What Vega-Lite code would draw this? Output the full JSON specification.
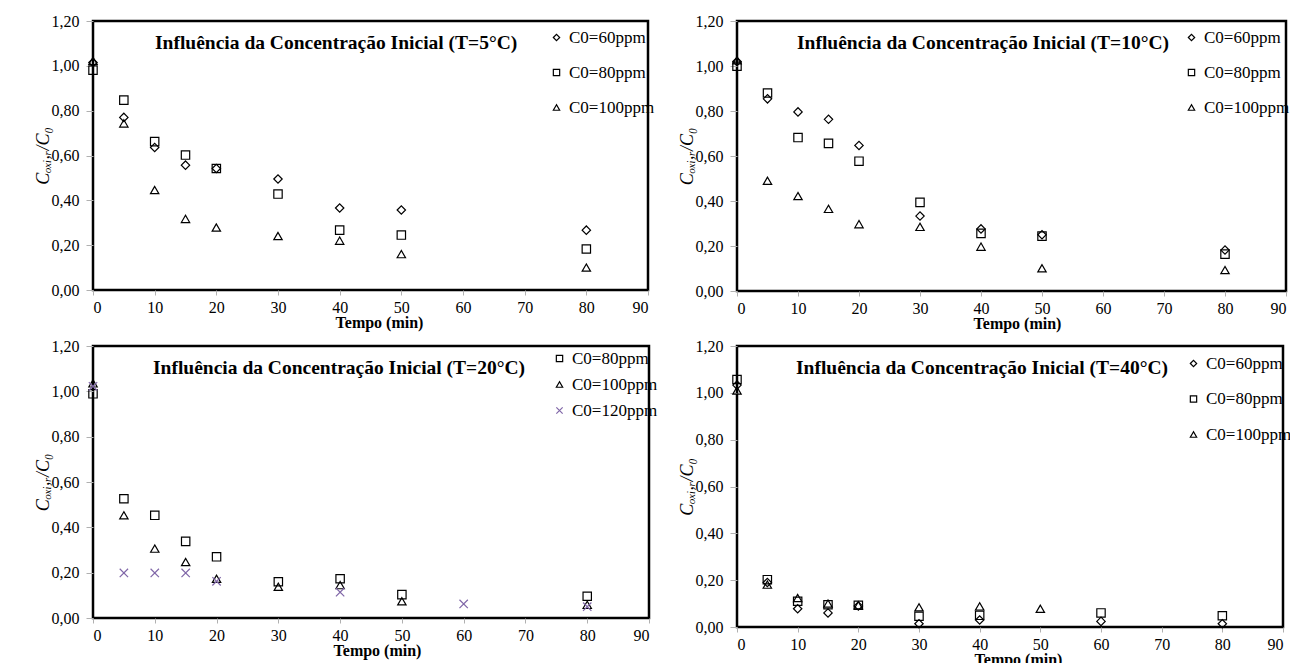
{
  "$schema": "https://vega.github.io/schema/vega-lite/v6.json",
  "padding": {"left": 32, "top": 11, "right": 0, "bottom": 0},
  "columns": 2,
  "align": "each",
  "bounds": "flush",
  "spacing": {"row": 55, "column": 88},
  "datasets": {
    "pts": [
      {"p": "5", "t": 0, "v": 1.015, "s": "C0=60ppm"},
      {"p": "5", "t": 5, "v": 0.77, "s": "C0=60ppm"},
      {"p": "5", "t": 10, "v": 0.636, "s": "C0=60ppm"},
      {"p": "5", "t": 15, "v": 0.557, "s": "C0=60ppm"},
      {"p": "5", "t": 20, "v": 0.542, "s": "C0=60ppm"},
      {"p": "5", "t": 30, "v": 0.495, "s": "C0=60ppm"},
      {"p": "5", "t": 40, "v": 0.366, "s": "C0=60ppm"},
      {"p": "5", "t": 50, "v": 0.357, "s": "C0=60ppm"},
      {"p": "5", "t": 80, "v": 0.267, "s": "C0=60ppm"},
      {"p": "5", "t": 0, "v": 0.981, "s": "C0=80ppm"},
      {"p": "5", "t": 5, "v": 0.847, "s": "C0=80ppm"},
      {"p": "5", "t": 10, "v": 0.662, "s": "C0=80ppm"},
      {"p": "5", "t": 15, "v": 0.602, "s": "C0=80ppm"},
      {"p": "5", "t": 20, "v": 0.542, "s": "C0=80ppm"},
      {"p": "5", "t": 30, "v": 0.428, "s": "C0=80ppm"},
      {"p": "5", "t": 40, "v": 0.267, "s": "C0=80ppm"},
      {"p": "5", "t": 50, "v": 0.245, "s": "C0=80ppm"},
      {"p": "5", "t": 80, "v": 0.183, "s": "C0=80ppm"},
      {"p": "5", "t": 0, "v": 1.022, "s": "C0=100ppm"},
      {"p": "5", "t": 5, "v": 0.743, "s": "C0=100ppm"},
      {"p": "5", "t": 10, "v": 0.446, "s": "C0=100ppm"},
      {"p": "5", "t": 15, "v": 0.317, "s": "C0=100ppm"},
      {"p": "5", "t": 20, "v": 0.279, "s": "C0=100ppm"},
      {"p": "5", "t": 30, "v": 0.241, "s": "C0=100ppm"},
      {"p": "5", "t": 40, "v": 0.22, "s": "C0=100ppm"},
      {"p": "5", "t": 50, "v": 0.16, "s": "C0=100ppm"},
      {"p": "5", "t": 80, "v": 0.1, "s": "C0=100ppm"},

      {"p": "10", "t": 0, "v": 1.02, "s": "C0=60ppm"},
      {"p": "10", "t": 5, "v": 0.854, "s": "C0=60ppm"},
      {"p": "10", "t": 10, "v": 0.796, "s": "C0=60ppm"},
      {"p": "10", "t": 15, "v": 0.763, "s": "C0=60ppm"},
      {"p": "10", "t": 20, "v": 0.647, "s": "C0=60ppm"},
      {"p": "10", "t": 30, "v": 0.333, "s": "C0=60ppm"},
      {"p": "10", "t": 40, "v": 0.276, "s": "C0=60ppm"},
      {"p": "10", "t": 50, "v": 0.25, "s": "C0=60ppm"},
      {"p": "10", "t": 80, "v": 0.182, "s": "C0=60ppm"},
      {"p": "10", "t": 0, "v": 0.999, "s": "C0=80ppm"},
      {"p": "10", "t": 5, "v": 0.88, "s": "C0=80ppm"},
      {"p": "10", "t": 10, "v": 0.682, "s": "C0=80ppm"},
      {"p": "10", "t": 15, "v": 0.656, "s": "C0=80ppm"},
      {"p": "10", "t": 20, "v": 0.577, "s": "C0=80ppm"},
      {"p": "10", "t": 30, "v": 0.394, "s": "C0=80ppm"},
      {"p": "10", "t": 40, "v": 0.256, "s": "C0=80ppm"},
      {"p": "10", "t": 50, "v": 0.244, "s": "C0=80ppm"},
      {"p": "10", "t": 80, "v": 0.164, "s": "C0=80ppm"},
      {"p": "10", "t": 0, "v": 1.025, "s": "C0=100ppm"},
      {"p": "10", "t": 5, "v": 0.49, "s": "C0=100ppm"},
      {"p": "10", "t": 10, "v": 0.422, "s": "C0=100ppm"},
      {"p": "10", "t": 15, "v": 0.365, "s": "C0=100ppm"},
      {"p": "10", "t": 20, "v": 0.297, "s": "C0=100ppm"},
      {"p": "10", "t": 30, "v": 0.285, "s": "C0=100ppm"},
      {"p": "10", "t": 40, "v": 0.197, "s": "C0=100ppm"},
      {"p": "10", "t": 50, "v": 0.101, "s": "C0=100ppm"},
      {"p": "10", "t": 80, "v": 0.093, "s": "C0=100ppm"},

      {"p": "20", "t": 0, "v": 0.989, "s": "C0=80ppm"},
      {"p": "20", "t": 5, "v": 0.526, "s": "C0=80ppm"},
      {"p": "20", "t": 10, "v": 0.453, "s": "C0=80ppm"},
      {"p": "20", "t": 15, "v": 0.338, "s": "C0=80ppm"},
      {"p": "20", "t": 20, "v": 0.27, "s": "C0=80ppm"},
      {"p": "20", "t": 30, "v": 0.16, "s": "C0=80ppm"},
      {"p": "20", "t": 40, "v": 0.173, "s": "C0=80ppm"},
      {"p": "20", "t": 50, "v": 0.103, "s": "C0=80ppm"},
      {"p": "20", "t": 80, "v": 0.096, "s": "C0=80ppm"},
      {"p": "20", "t": 0, "v": 1.035, "s": "C0=100ppm"},
      {"p": "20", "t": 5, "v": 0.453, "s": "C0=100ppm"},
      {"p": "20", "t": 10, "v": 0.306, "s": "C0=100ppm"},
      {"p": "20", "t": 15, "v": 0.247, "s": "C0=100ppm"},
      {"p": "20", "t": 20, "v": 0.173, "s": "C0=100ppm"},
      {"p": "20", "t": 30, "v": 0.138, "s": "C0=100ppm"},
      {"p": "20", "t": 40, "v": 0.145, "s": "C0=100ppm"},
      {"p": "20", "t": 50, "v": 0.074, "s": "C0=100ppm"},
      {"p": "20", "t": 80, "v": 0.058, "s": "C0=100ppm"},
      {"p": "20", "t": 0, "v": 1.022, "s": "C0=120ppm"},
      {"p": "20", "t": 5, "v": 0.199, "s": "C0=120ppm"},
      {"p": "20", "t": 10, "v": 0.199, "s": "C0=120ppm"},
      {"p": "20", "t": 15, "v": 0.199, "s": "C0=120ppm"},
      {"p": "20", "t": 20, "v": 0.162, "s": "C0=120ppm"},
      {"p": "20", "t": 40, "v": 0.114, "s": "C0=120ppm"},
      {"p": "20", "t": 60, "v": 0.062, "s": "C0=120ppm"},
      {"p": "20", "t": 80, "v": 0.05, "s": "C0=120ppm"},

      {"p": "40", "t": 0, "v": 1.033, "s": "C0=60ppm"},
      {"p": "40", "t": 5, "v": 0.19, "s": "C0=60ppm"},
      {"p": "40", "t": 10, "v": 0.078, "s": "C0=60ppm"},
      {"p": "40", "t": 15, "v": 0.06, "s": "C0=60ppm"},
      {"p": "40", "t": 20, "v": 0.09, "s": "C0=60ppm"},
      {"p": "40", "t": 30, "v": 0.014, "s": "C0=60ppm"},
      {"p": "40", "t": 40, "v": 0.03, "s": "C0=60ppm"},
      {"p": "40", "t": 60, "v": 0.024, "s": "C0=60ppm"},
      {"p": "40", "t": 80, "v": 0.014, "s": "C0=60ppm"},
      {"p": "40", "t": 0, "v": 1.057, "s": "C0=80ppm"},
      {"p": "40", "t": 5, "v": 0.202, "s": "C0=80ppm"},
      {"p": "40", "t": 10, "v": 0.11, "s": "C0=80ppm"},
      {"p": "40", "t": 15, "v": 0.095, "s": "C0=80ppm"},
      {"p": "40", "t": 20, "v": 0.093, "s": "C0=80ppm"},
      {"p": "40", "t": 30, "v": 0.046, "s": "C0=80ppm"},
      {"p": "40", "t": 40, "v": 0.05, "s": "C0=80ppm"},
      {"p": "40", "t": 60, "v": 0.06, "s": "C0=80ppm"},
      {"p": "40", "t": 80, "v": 0.048, "s": "C0=80ppm"},
      {"p": "40", "t": 0, "v": 1.01, "s": "C0=100ppm"},
      {"p": "40", "t": 5, "v": 0.181, "s": "C0=100ppm"},
      {"p": "40", "t": 10, "v": 0.124, "s": "C0=100ppm"},
      {"p": "40", "t": 15, "v": 0.1, "s": "C0=100ppm"},
      {"p": "40", "t": 20, "v": 0.093, "s": "C0=100ppm"},
      {"p": "40", "t": 30, "v": 0.084, "s": "C0=100ppm"},
      {"p": "40", "t": 40, "v": 0.088, "s": "C0=100ppm"},
      {"p": "40", "t": 50, "v": 0.078, "s": "C0=100ppm"}
    ]
  },
  "concat": [
    {
      "width": 555, "height": 269,
      "data": {"name": "pts"},
      "transform": [{"filter": "datum.p == '5'"}],
      "title": {"text": "Influência da Concentração Inicial (T=5°C)", "dx": 62},
      "mark": {"type": "point", "filled": false, "size": 70, "strokeWidth": 1.2, "opacity": 1},
      "encoding": {
        "x": {"field": "t", "type": "quantitative", "scale": {"domain": [0, 90], "nice": false}, "axis": {"title": "Tempo (min)", "titleX": 286, "values": [0,10,20,30,40,50,60,70,80,90]}},
        "y": {"field": "v", "type": "quantitative", "scale": {"domain": [0, 1.2], "nice": false}, "axis": {"title": "Cₒₓᵢ,ᵣ/C₀", "values": [0,0.2,0.4,0.6,0.8,1,1.2]}},
        "shape": {"field": "s", "type": "nominal", "scale": {"domain": ["C0=60ppm","C0=80ppm","C0=100ppm"], "range": ["diamond","square","triangle-up"]}, "legend": {"orient": "none", "legendX": 455, "legendY": 8, "rowPadding": 17}},
        "color": {"field": "s", "type": "nominal", "scale": {"domain": ["C0=60ppm","C0=80ppm","C0=100ppm"], "range": ["#000000","#000000","#000000"]}, "legend": {"orient": "none", "legendX": 455, "legendY": 8, "rowPadding": 17}}
      }
    },
    {
      "width": 549, "height": 270,
      "data": {"name": "pts"},
      "transform": [{"filter": "datum.p == '10'"}],
      "title": {"text": "Influência da Concentração Inicial (T=10°C)", "dx": 60},
      "mark": {"type": "point", "filled": false, "size": 70, "strokeWidth": 1.2, "opacity": 1},
      "encoding": {
        "x": {"field": "t", "type": "quantitative", "scale": {"domain": [0, 90], "nice": false}, "axis": {"title": "Tempo (min)", "titleX": 280, "values": [0,10,20,30,40,50,60,70,80,90]}},
        "y": {"field": "v", "type": "quantitative", "scale": {"domain": [0, 1.2], "nice": false}, "axis": {"title": "Cₒₓᵢ,ᵣ/C₀", "values": [0,0.2,0.4,0.6,0.8,1,1.2]}},
        "shape": {"field": "s", "type": "nominal", "scale": {"domain": ["C0=60ppm","C0=80ppm","C0=100ppm"], "range": ["diamond","square","triangle-up"]}, "legend": {"orient": "none", "legendX": 446, "legendY": 8, "rowPadding": 17}},
        "color": {"field": "s", "type": "nominal", "scale": {"domain": ["C0=60ppm","C0=80ppm","C0=100ppm"], "range": ["#000000","#000000","#000000"]}, "legend": {"orient": "none", "legendX": 446, "legendY": 8, "rowPadding": 17}}
      }
    },
    {
      "width": 556, "height": 272,
      "data": {"name": "pts"},
      "transform": [{"filter": "datum.p == '20'"}],
      "title": {"text": "Influência da Concentração Inicial (T=20°C)", "dx": 60},
      "mark": {"type": "point", "filled": false, "size": 70, "strokeWidth": 1.2, "opacity": 1},
      "encoding": {
        "x": {"field": "t", "type": "quantitative", "scale": {"domain": [0, 90], "nice": false}, "axis": {"title": "Tempo (min)", "titleX": 284, "values": [0,10,20,30,40,50,60,70,80,90]}},
        "y": {"field": "v", "type": "quantitative", "scale": {"domain": [0, 1.2], "nice": false}, "axis": {"title": "Cₒₓᵢ,ᵣ/C₀", "values": [0,0.2,0.4,0.6,0.8,1,1.2]}},
        "shape": {"field": "s", "type": "nominal", "scale": {"domain": ["C0=80ppm","C0=100ppm","C0=120ppm"], "range": ["square","triangle-up","M-1,-1L1,1M-1,1L1,-1"]}, "legend": {"orient": "none", "legendX": 458, "legendY": 4, "rowPadding": 8}},
        "color": {"field": "s", "type": "nominal", "scale": {"domain": ["C0=80ppm","C0=100ppm","C0=120ppm"], "range": ["#000000","#000000","#8067a8"]}, "legend": {"orient": "none", "legendX": 458, "legendY": 4, "rowPadding": 8}}
      }
    },
    {
      "width": 546, "height": 281,
      "data": {"name": "pts"},
      "transform": [{"filter": "datum.p == '40'"}],
      "title": {"text": "Influência da Concentração Inicial (T=40°C)", "dx": 59},
      "mark": {"type": "point", "filled": false, "size": 70, "strokeWidth": 1.2, "opacity": 1},
      "encoding": {
        "x": {"field": "t", "type": "quantitative", "scale": {"domain": [0, 90], "nice": false}, "axis": {"title": "Tempo (min)", "titleX": 281, "values": [0,10,20,30,40,50,60,70,80,90]}},
        "y": {"field": "v", "type": "quantitative", "scale": {"domain": [0, 1.2], "nice": false}, "axis": {"title": "Cₒₓᵢ,ᵣ/C₀", "values": [0,0.2,0.4,0.6,0.8,1,1.2]}},
        "shape": {"field": "s", "type": "nominal", "scale": {"domain": ["C0=60ppm","C0=80ppm","C0=100ppm"], "range": ["diamond","square","triangle-up"]}, "legend": {"orient": "none", "legendX": 448, "legendY": 9, "rowPadding": 17.5}},
        "color": {"field": "s", "type": "nominal", "scale": {"domain": ["C0=60ppm","C0=80ppm","C0=100ppm"], "range": ["#000000","#000000","#000000"]}, "legend": {"orient": "none", "legendX": 448, "legendY": 9, "rowPadding": 17.5}}
      }
    }
  ],
  "resolve": {
    "scale": {"shape": "independent", "color": "independent"},
    "legend": {"shape": "independent", "color": "independent"}
  },
  "config": {
    "background": "white",
    "view": {"stroke": "#000000", "strokeWidth": 2.5},
    "title": {"font": "Liberation Serif", "fontSize": 19.5, "fontWeight": "bold", "color": "#000000", "anchor": "start", "frame": "group", "offset": -40},
    "axis": {"grid": false, "domain": false, "labelFont": "Liberation Serif", "labelFontSize": 16, "labelColor": "#000000", "tickColor": "#b0b0b0", "titleColor": "#000000"},
    "axisX": {"tickSize": 5, "labelPadding": 4, "titleFont": "Liberation Serif", "titleFontSize": 16, "titleFontWeight": "bold", "titlePadding": -1},
    "axisY": {"tickSize": 7, "labelPadding": 7, "labelExpr": "replace(format(datum.value, '.2f'), '.', ',')", "titleFont": "Liberation Serif", "titleFontSize": 18, "titleFontStyle": "italic", "titleFontWeight": "normal", "titlePadding": -1},
    "legend": {"title": null, "padding": 0, "labelFont": "Liberation Serif", "labelFontSize": 17, "labelColor": "#000000", "symbolSize": 40, "symbolStrokeWidth": 1, "labelOffset": 4, "symbolFillColor": "transparent"},
    "point": {"strokeWidth": 1.2}
  }
}
